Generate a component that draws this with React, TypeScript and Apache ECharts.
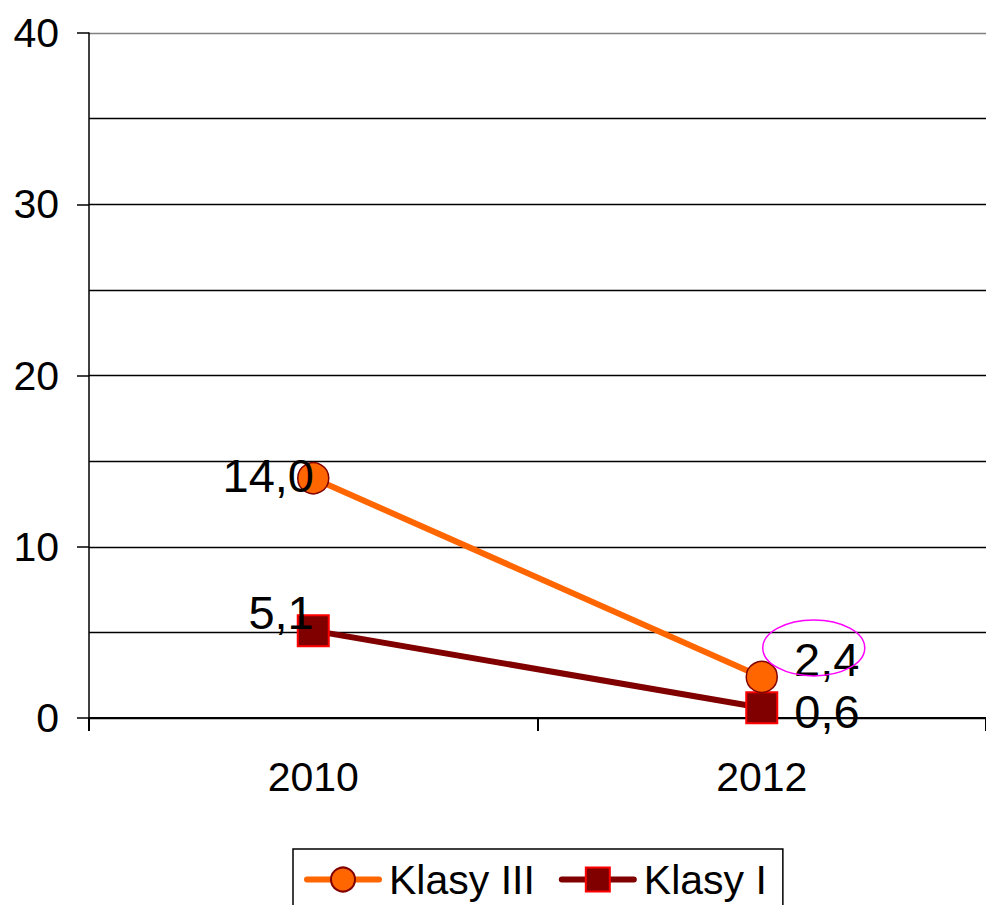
import React, { useEffect, useRef } from "react";
import * as echarts from "echarts";

const categories = ["2010", "2012"];
const klasyIII = [14.0, 2.4];
const klasyI = [5.1, 0.6];
const yTicks = { min: 0, max: 40, interval: 10 };

const FONT = "Liberation Sans, Arial, sans-serif";
const fmt = (v: number) => v.toFixed(1).replace(".", ",");

export default function App() {
  const ref = useRef<HTMLDivElement>(null);
  useEffect(() => {
    document.body.style.margin = "0";
    document.body.style.overflow = "hidden";
    if (!ref.current) return;
    const chart = echarts.init(ref.current, undefined, { renderer: "svg" });
    const labelBase = { show: true, fontSize: 47, fontFamily: FONT, color: "#000", formatter: (p: any) => fmt(p.value) };
    const option: any = {
      animation: false,
      backgroundColor: "#fff",
      grid: { left: 89, right: -9, top: 33, bottom: 187 },
      xAxis: {
        type: "category",
        data: categories,
        boundaryGap: true,
        axisLine: { lineStyle: { color: "#000", width: 2 } },
        axisTick: { show: true, length: 13, lineStyle: { color: "#000", width: 2 } },
        axisLabel: { color: "#000", fontSize: 41, fontFamily: FONT, margin: 38 },
        splitLine: { show: false },
      },
      yAxis: {
        type: "value",
        min: yTicks.min,
        max: yTicks.max,
        interval: yTicks.interval,
        axisLine: { show: true, lineStyle: { color: "#000", width: 1.5 } },
        axisTick: { show: true, length: 12, lineStyle: { color: "#000", width: 1.5 } },
        axisLabel: { color: "#000", fontSize: 41, fontFamily: FONT, margin: 30 },
        splitLine: {
          show: true,
          lineStyle: { color: ["#000", "#000", "#000", "#000", "#808080"], width: 1.3 },
        },
        minorTick: { show: false, splitNumber: 2 },
        minorSplitLine: { show: true, lineStyle: { color: "#000", width: 1.3 } },
      },
      legend: {
        left: 293,
        top: 849,
        orient: "horizontal",
        padding: [10, 16, 20, 11],
        itemGap: 24,
        itemWidth: 72,
        itemHeight: 30,
        borderColor: "#000",
        borderWidth: 1.5,
        borderRadius: 0,
        textStyle: { color: "#000", fontSize: 41, fontFamily: FONT, padding: [0, 0, 0, 5] },
        data: [
          { name: "Klasy III", lineStyle: { width: 6, cap: "round" } },
          { name: "Klasy I", lineStyle: { width: 6, cap: "round" } },
        ],
      },
      series: [
        {
          name: "Klasy III",
          type: "line",
          data: klasyIII.map((v, i) => ({
            value: v,
            label:
              i === 0
                ? { position: "left", distance: -17, offset: [0, -3] }
                : { position: "right", distance: 16, offset: [0, -17] },
          })),
          symbol: "circle",
          symbolSize: 31,
          lineStyle: { color: "#FF6600", width: 6 },
          itemStyle: { color: "#FF6600", borderColor: "#800000", borderWidth: 1.5 },
          label: labelBase,
          z: 3,
        },
        {
          name: "Klasy I",
          type: "line",
          data: klasyI.map((v, i) => ({
            value: v,
            label:
              i === 0
                ? { position: "left", distance: -17, offset: [0, -18] }
                : { position: "right", distance: 16, offset: [0, 4] },
          })),
          symbol: "rect",
          symbolSize: 31,
          lineStyle: { color: "#800000", width: 6 },
          itemStyle: { color: "#800000", borderColor: "#FF0000", borderWidth: 2 },
          label: labelBase,
          z: 2,
        },
      ],
    };
    chart.setOption(option);

    const pt = chart.convertToPixel({ gridIndex: 0 }, [categories[1], klasyIII[1]]) as number[];
    if (pt) {
      chart.setOption({
        graphic: [
          {
            type: "ellipse",
            shape: { cx: pt[0] + 52, cy: pt[1] - 29, rx: 51, ry: 28 },
            style: { fill: "none", stroke: "#FF00FF", lineWidth: 1.5 },
            z: 10,
          },
        ],
      });
    }
    return () => chart.dispose();
  }, []);
  return <div ref={ref} style={{ width: 986, height: 905 }} />;
}
